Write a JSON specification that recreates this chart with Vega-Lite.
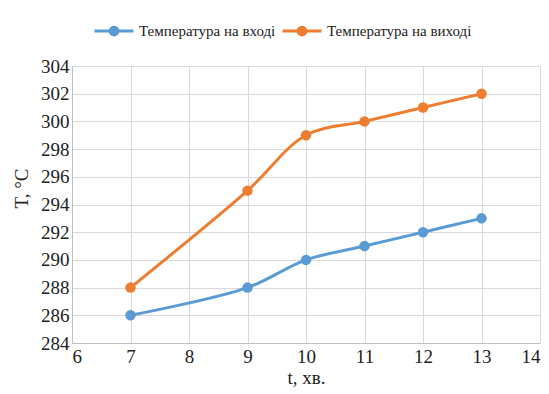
{
  "$schema": "https://vega.github.io/schema/vega-lite/v6.json",
  "width": 468,
  "height": 277,
  "autosize": {"type": "none"},
  "padding": {"left": 72, "top": 66, "right": 9, "bottom": 51},
  "background": "white",
  "config": {
    "view": {"stroke": null},
    "font": "Liberation Serif"
  },
  "data": {
    "values": [
      {"t": 7, "T": 286, "s": "Температура на вході"},
      {"t": 9, "T": 288, "s": "Температура на вході"},
      {"t": 10, "T": 290, "s": "Температура на вході"},
      {"t": 11, "T": 291, "s": "Температура на вході"},
      {"t": 12, "T": 292, "s": "Температура на вході"},
      {"t": 13, "T": 293, "s": "Температура на вході"},
      {"t": 7, "T": 288, "s": "Температура на виході"},
      {"t": 9, "T": 295, "s": "Температура на виході"},
      {"t": 10, "T": 299, "s": "Температура на виході"},
      {"t": 11, "T": 300, "s": "Температура на виході"},
      {"t": 12, "T": 301, "s": "Температура на виході"},
      {"t": 13, "T": 302, "s": "Температура на виході"}
    ]
  },
  "mark": {"type": "line", "interpolate": "catmull-rom", "strokeWidth": 3, "point": {"size": 110, "filled": true, "opacity": 1}},
  "encoding": {
    "x": {
      "field": "t", "type": "quantitative",
      "scale": {"domain": [6, 14], "nice": false},
      "axis": {
        "values": [6, 7, 8, 9, 10, 11, 12, 13, 14],
        "title": "t, хв.",
        "titleFont": "Liberation Serif", "titleFontSize": 19, "titleFontWeight": "normal", "titleColor": "#222",
        "titlePadding": 2,
        "labelFont": "Liberation Serif", "labelFontSize": 19, "labelColor": "#222",
        "labelPadding": 4,
        "ticks": false,
        "domainColor": "#bfbfbf",
        "gridColor": "#d9d9d9"
      }
    },
    "y": {
      "field": "T", "type": "quantitative",
      "scale": {"domain": [284, 304], "nice": false, "zero": false},
      "axis": {
        "values": [284, 286, 288, 290, 292, 294, 296, 298, 300, 302, 304],
        "title": "T, °C",
        "titleFont": "Liberation Serif", "titleFontSize": 19, "titleFontWeight": "normal", "titleColor": "#222",
        "titleX": -45, "titleY": 122, "titleAngle": -90, "titleAlign": "center", "titleBaseline": "alphabetic",
        "labelFont": "Liberation Serif", "labelFontSize": 19, "labelColor": "#222",
        "labelPadding": 3,
        "ticks": false,
        "domainColor": "#bfbfbf",
        "gridColor": "#d9d9d9"
      }
    },
    "color": {
      "field": "s", "type": "nominal",
      "scale": {"domain": ["Температура на вході", "Температура на виході"], "range": ["#5B9BD5", "#ED7D31"]},
      "legend": {
        "title": null,
        "orient": "none",
        "legendX": 21,
        "legendY": -56,
        "direction": "horizontal",
        "labelFont": "Liberation Serif",
        "labelFontSize": 15,
        "labelColor": "#222",
        "symbolType": "M-1,0H1M0.2,0A0.2,0.2 0 1,1 -0.2,0A0.2,0.2 0 1,1 0.2,0Z",
        "symbolStrokeWidth": 3,
        "symbolSize": 1521,
        "labelOffset": 4,
        "columnPadding": 0,
        "encode": {
          "symbols": {"update": {"fill": {"scale": "color", "field": "value"}, "fillOpacity": {"value": 1}}}
        }
      }
    }
  }
}
